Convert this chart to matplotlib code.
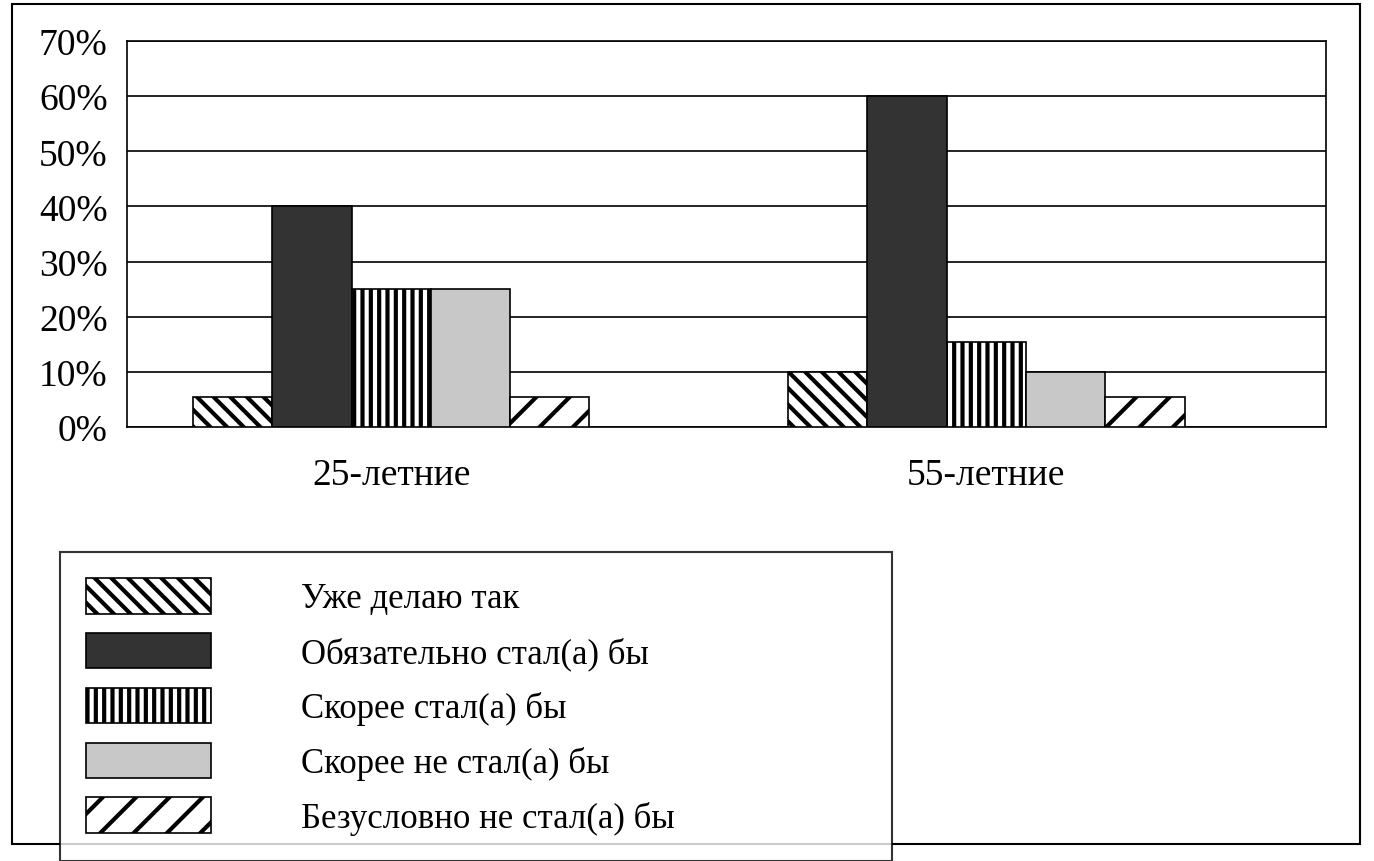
import matplotlib
matplotlib.use("Agg")
import matplotlib.pyplot as plt
from matplotlib.patches import Rectangle

groups = ["25-летние", "55-летние"]
series = ["Уже делаю так", "Обязательно стал(а) бы", "Скорее стал(а) бы",
          "Скорее не стал(а) бы", "Безусловно не стал(а) бы"]
values = [[5.5, 10], [40, 60], [25, 15.5], [25, 10], [5.5, 5.5]]
colors = ["white", "#333333", "white", "#c8c8c8", "white"]
hatches = ["\\\\", None, "||", None, "/"]

plt.rcParams['font.family'] = ['Liberation Serif', 'DejaVu Serif']
plt.rcParams['hatch.linewidth'] = 3
fig = plt.figure(figsize=(13.74, 8.62), dpi=100)
fig.patches.append(Rectangle((12/1374, 1-845/862), 1348/1374, 840/862, transform=fig.transFigure,
                             fill=False, edgecolor="black", lw=1.5))
ax = fig.add_axes([127/1374, 1-428/862, 1199/1374, 386/862])
w = 0.1333
for i, (s, v) in enumerate(zip(series, values)):
    xs = [g + (i - 2) * w for g in range(len(groups))]
    ax.bar(xs, v, width=w, color=colors[i], hatch=hatches[i], edgecolor="black",
           lw=1.2, label=s, zorder=3)
ax.set_xlim(-0.444, 1.571)
ax.set_ylim(0, 70)
ax.set_yticks(range(0, 71, 10))
ax.set_yticklabels([f"{t}%" for t in range(0, 71, 10)], fontsize=27)
ax.set_xticks([0, 1])
ax.set_xticklabels(groups, fontsize=27)
ax.tick_params(axis="x", length=0, pad=22)
ax.tick_params(axis="y", length=0, pad=14)
ax.grid(axis="y", color="black", lw=1.2, zorder=0)
for sp in ax.spines.values():
    sp.set_linewidth(1.2)
leg = fig.legend(loc="upper left",
                 bbox_to_anchor=(290/1374, 1-818/862, 832/1374, 303/862), mode="expand",
                 fontsize=25, frameon=True, fancybox=False, edgecolor="black",
                 handlelength=3.6, handleheight=1.2, handletextpad=2.6, borderpad=0.75,
                 labelspacing=0.5, borderaxespad=0)
leg._legend_box.align = "left"
leg.get_frame().set_linewidth(1.5)
# shift content right
leg._legend_box.set_offset(lambda w_, h_, x, y, r: (x + 60, y))
fig.savefig("out.png", dpi=100)
